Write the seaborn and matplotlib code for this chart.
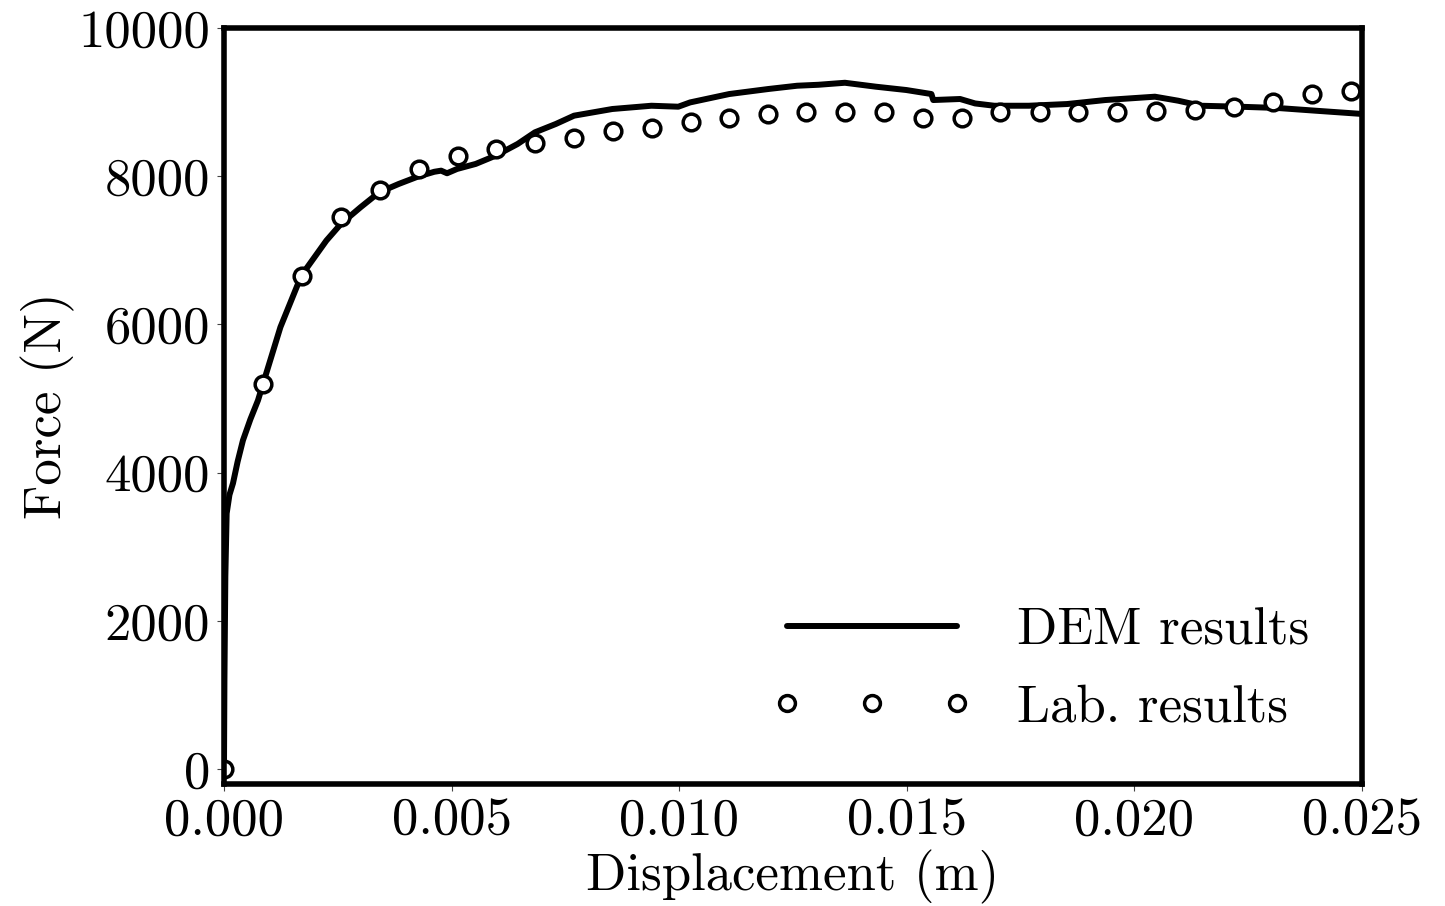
import numpy as np
import pandas as pd
import matplotlib
matplotlib.use("Agg")
import matplotlib.pyplot as plt
import seaborn as sns

# DEM curve
dem_disp = [0.0, 0.00001, 0.00003, 0.000059, 0.000120, 0.000198, 0.000300, 0.000417,
            0.000580, 0.000747, 0.000859,
            0.00124, 0.00170, 0.00225, 0.00257, 0.00300, 0.00341, 0.00384, 0.00426,
            0.00462, 0.00477, 0.00490, 0.00512, 0.00553, 0.00597, 0.00645, 0.00683,
            0.00729, 0.00769, 0.00853, 0.00939, 0.00998, 0.01024, 0.01110, 0.01196,
            0.01259, 0.01306, 0.01364, 0.01432, 0.01499, 0.01554, 0.01558, 0.01617,
            0.01650, 0.01692, 0.01768, 0.01852, 0.01936, 0.02045, 0.02096, 0.02146,
            0.02230, 0.02314, 0.02398, 0.02482, 0.02500]
dem_force = [0, 1200, 2600, 3450, 3700, 3857, 4150, 4437,
             4720, 4976, 5201,
             5964, 6660, 7132, 7357, 7581, 7783, 7896, 7995,
             8060, 8075, 8040, 8098, 8166, 8278, 8435, 8592,
             8705, 8817, 8907, 8951, 8938, 8996, 9109, 9177,
             9221, 9234, 9261, 9208, 9163, 9109, 9028, 9042,
             8982, 8951, 8951, 8974, 9028, 9073, 9019, 8951,
             8938, 8921, 8884, 8848, 8840]

# laboratory points
lab_disp = [0.0, 0.000857, 0.001714, 0.00257, 0.003427, 0.004284, 0.005141, 0.005975,
            0.006832, 0.00769, 0.008546, 0.009403, 0.01026, 0.011094, 0.011951, 0.012786,
            0.013642, 0.0145, 0.015356, 0.016213, 0.017047, 0.017926, 0.018761, 0.019618,
            0.020475, 0.021331, 0.022188, 0.023045, 0.023902, 0.024758]
lab_force = [0, 5201, 6660, 7446, 7815, 8098, 8268, 8368,
             8443, 8516, 8615, 8646, 8736, 8786, 8840, 8861,
             8861, 8861, 8786, 8786, 8861, 8861, 8861, 8861,
             8875, 8894, 8929, 8996, 9109, 9144]

xticks = [0.0, 0.005, 0.010, 0.015, 0.020, 0.025]
xtick_labels = ["0.000", "0.005", "0.010", "0.015", "0.020", "0.025"]
yticks = [0, 2000, 4000, 6000, 8000, 10000]
ytick_labels = ["0", "2000", "4000", "6000", "8000", "10000"]

sns.set_style("ticks", {"text.color": "black", "axes.labelcolor": "black",
                        "xtick.color": "black", "ytick.color": "black"})
plt.rcParams["font.family"] = ["cmr10", "DejaVu Serif"]
plt.rcParams["mathtext.fontset"] = "cm"
plt.rcParams["axes.formatter.use_mathtext"] = True
fs = 38

dem = pd.DataFrame({"disp": dem_disp, "force": dem_force})
lab = pd.DataFrame({"disp": lab_disp, "force": lab_force})

fig = plt.figure(figsize=(14.45, 9.06), dpi=100)
ax = fig.add_axes([0.155, 0.1347, 0.7876, 0.8344])

sns.lineplot(data=dem, x="disp", y="force", color="black", linewidth=4.3,
             label="DEM results", ax=ax, sort=False, estimator=None)
sns.lineplot(data=lab, x="disp", y="force", color="black", linestyle="",
             marker="o", markersize=12, markerfacecolor="white",
             markeredgecolor="black", markeredgewidth=2.5,
             label="Lab. results", ax=ax, sort=False, estimator=None)

ax.set_xlim(0, 0.025)
ax.set_ylim(-200, 10000)
ax.set_xticks(xticks)
ax.set_xticklabels(xtick_labels, fontsize=fs)
ax.set_yticks(yticks)
ax.set_yticklabels(ytick_labels, fontsize=fs)
ax.tick_params(length=5, width=0.8, color="#444444", pad=5)
ax.set_xlabel("Displacement (m)", fontsize=fs, labelpad=4)
ax.set_ylabel("Force (N)", fontsize=fs, labelpad=2)

for sp in ax.spines.values():
    sp.set_visible(True)
    sp.set_linewidth(4)
    sp.set_color("black")

ax.legend(loc="lower right", bbox_to_anchor=(0.995, 0.006), frameon=False,
          fontsize=fs, numpoints=3, markerscale=0.95, handlelength=3.83,
          handletextpad=0.83, labelspacing=0.58)

fig.savefig("out.png", dpi=100)
